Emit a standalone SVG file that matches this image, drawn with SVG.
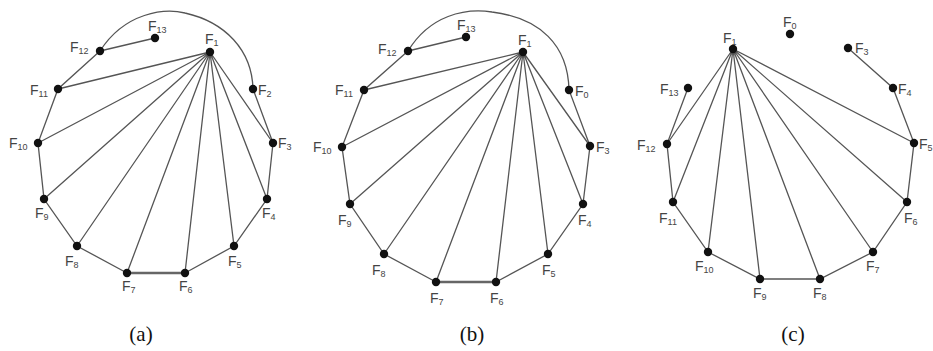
<svg xmlns="http://www.w3.org/2000/svg" width="933" height="351" viewBox="0 0 933 351">
<style>
.e{stroke:#555;stroke-width:1.3;fill:none}
.d{stroke:#666;stroke-width:2.6;fill:none}
.n{fill:#111}
.l{font-family:"Liberation Sans",Arial,sans-serif;font-size:14px;fill:#444}
.s{font-size:9px}
.cap{font-family:"Liberation Serif","Times New Roman",serif;font-size:21px;fill:#111;text-anchor:middle}
</style>
<rect width="933" height="351" fill="#fff"/>
<g id="connectors">
<!-- panel a -->
<path class="e" d="M100,51 C125,12 165,8 185,13 C225,22 252,50 253,89 L273,143"/>
<path class="e" d="M100,51 L155,38 M100,51 L58,89 L38,143 L44,199 L77,246 L127,273 M185,273 L234,246 L267,199 L273,143"/>
<path class="d" d="M127,273 L185,273"/>
<path class="e" d="M210,52 L58,89 M210,52 L38,143 M210,52 L44,199 M210,52 L77,246 M210,52 L127,273 M210,52 L185,273 M210,52 L234,246 M210,52 L267,199 M210,52 L273,143"/>
<!-- panel b -->
<path class="e" d="M408,51 C430,15 465,8 492,12 C540,18 568,45 569,90 L590,146"/>
<path class="e" d="M408,51 L466,37 M408,51 L364,90 L342,147 L350,204 L384,254 L436,282 M496,282 L548,254 L583,204 L590,146"/>
<path class="d" d="M436,282 L496,282"/>
<path class="e" d="M523,52 L364,90 M523,52 L342,147 M523,52 L350,204 M523,52 L384,254 M523,52 L436,282 M523,52 L496,282 M523,52 L548,254 M523,52 L583,204 M523,52 L590,146"/>
<!-- panel c -->
<path class="e" d="M848,48 L893,88 L914,143 L907,202 L873,252 L820,279 L760,279 L708,252 L673,202 L667,144 L688,88"/>
<path class="e" d="M733,49 L667,144 M733,49 L673,202 M733,49 L708,252 M733,49 L760,279 M733,49 L820,279 M733,49 L873,252 M733,49 L907,202 M733,49 L914,143"/>
</g>
<g id="panel-a">
<g id="a-F1"><circle class="n" cx="210" cy="52" r="4.2"/><text class="l" x="205" y="44">F<tspan class="s" dy="2">1</tspan></text></g>
<g id="a-F2"><circle class="n" cx="253" cy="89" r="4.2"/><text class="l" x="258" y="95">F<tspan class="s" dy="2">2</tspan></text></g>
<g id="a-F3"><circle class="n" cx="273" cy="143" r="4.2"/><text class="l" x="278" y="148">F<tspan class="s" dy="2">3</tspan></text></g>
<g id="a-F4"><circle class="n" cx="267" cy="199" r="4.2"/><text class="l" x="262" y="218">F<tspan class="s" dy="2">4</tspan></text></g>
<g id="a-F5"><circle class="n" cx="234" cy="246" r="4.2"/><text class="l" x="228" y="266">F<tspan class="s" dy="2">5</tspan></text></g>
<g id="a-F6"><circle class="n" cx="185" cy="273" r="4.2"/><text class="l" x="179" y="291">F<tspan class="s" dy="2">6</tspan></text></g>
<g id="a-F7"><circle class="n" cx="127" cy="273" r="4.2"/><text class="l" x="122" y="291">F<tspan class="s" dy="2">7</tspan></text></g>
<g id="a-F8"><circle class="n" cx="77" cy="246" r="4.2"/><text class="l" x="65" y="266">F<tspan class="s" dy="2">8</tspan></text></g>
<g id="a-F9"><circle class="n" cx="44" cy="199" r="4.2"/><text class="l" x="35" y="218">F<tspan class="s" dy="2">9</tspan></text></g>
<g id="a-F10"><circle class="n" cx="38" cy="143" r="4.2"/><text class="l" x="9" y="148">F<tspan class="s" dy="2">10</tspan></text></g>
<g id="a-F11"><circle class="n" cx="58" cy="89" r="4.2"/><text class="l" x="30" y="95">F<tspan class="s" dy="2">11</tspan></text></g>
<g id="a-F12"><circle class="n" cx="100" cy="51" r="4.2"/><text class="l" x="70" y="52">F<tspan class="s" dy="2">12</tspan></text></g>
<g id="a-F13"><circle class="n" cx="155" cy="38" r="4.2"/><text class="l" x="148" y="31">F<tspan class="s" dy="2">13</tspan></text></g>
<text class="cap" x="141" y="341">(a)</text>
</g>
<g id="panel-b">
<g id="b-F1"><circle class="n" cx="523" cy="52" r="4.2"/><text class="l" x="518" y="45">F<tspan class="s" dy="2">1</tspan></text></g>
<g id="b-F0"><circle class="n" cx="569" cy="90" r="4.2"/><text class="l" x="575" y="96">F<tspan class="s" dy="2">0</tspan></text></g>
<g id="b-F3"><circle class="n" cx="590" cy="146" r="4.2"/><text class="l" x="596" y="152">F<tspan class="s" dy="2">3</tspan></text></g>
<g id="b-F4"><circle class="n" cx="583" cy="204" r="4.2"/><text class="l" x="578" y="225">F<tspan class="s" dy="2">4</tspan></text></g>
<g id="b-F5"><circle class="n" cx="548" cy="254" r="4.2"/><text class="l" x="542" y="275">F<tspan class="s" dy="2">5</tspan></text></g>
<g id="b-F6"><circle class="n" cx="496" cy="282" r="4.2"/><text class="l" x="490" y="303">F<tspan class="s" dy="2">6</tspan></text></g>
<g id="b-F7"><circle class="n" cx="436" cy="282" r="4.2"/><text class="l" x="430" y="303">F<tspan class="s" dy="2">7</tspan></text></g>
<g id="b-F8"><circle class="n" cx="384" cy="254" r="4.2"/><text class="l" x="372" y="275">F<tspan class="s" dy="2">8</tspan></text></g>
<g id="b-F9"><circle class="n" cx="350" cy="204" r="4.2"/><text class="l" x="338" y="225">F<tspan class="s" dy="2">9</tspan></text></g>
<g id="b-F10"><circle class="n" cx="342" cy="147" r="4.2"/><text class="l" x="313" y="152">F<tspan class="s" dy="2">10</tspan></text></g>
<g id="b-F11"><circle class="n" cx="364" cy="90" r="4.2"/><text class="l" x="335" y="95">F<tspan class="s" dy="2">11</tspan></text></g>
<g id="b-F12"><circle class="n" cx="408" cy="51" r="4.2"/><text class="l" x="378" y="54">F<tspan class="s" dy="2">12</tspan></text></g>
<g id="b-F13"><circle class="n" cx="466" cy="37" r="4.2"/><text class="l" x="457" y="30">F<tspan class="s" dy="2">13</tspan></text></g>
<text class="cap" x="472" y="341">(b)</text>
</g>
<g id="panel-c">
<g id="c-F0"><circle class="n" cx="790" cy="34" r="4.2"/><text class="l" x="783" y="27">F<tspan class="s" dy="2">0</tspan></text></g>
<g id="c-F1"><circle class="n" cx="733" cy="49" r="4.2"/><text class="l" x="723" y="43">F<tspan class="s" dy="2">1</tspan></text></g>
<g id="c-F3"><circle class="n" cx="848" cy="48" r="4.2"/><text class="l" x="855" y="53">F<tspan class="s" dy="2">3</tspan></text></g>
<g id="c-F4"><circle class="n" cx="893" cy="88" r="4.2"/><text class="l" x="898" y="94">F<tspan class="s" dy="2">4</tspan></text></g>
<g id="c-F5"><circle class="n" cx="914" cy="143" r="4.2"/><text class="l" x="919" y="149">F<tspan class="s" dy="2">5</tspan></text></g>
<g id="c-F6"><circle class="n" cx="907" cy="202" r="4.2"/><text class="l" x="904" y="223">F<tspan class="s" dy="2">6</tspan></text></g>
<g id="c-F7"><circle class="n" cx="873" cy="252" r="4.2"/><text class="l" x="866" y="271">F<tspan class="s" dy="2">7</tspan></text></g>
<g id="c-F8"><circle class="n" cx="820" cy="279" r="4.2"/><text class="l" x="813" y="298">F<tspan class="s" dy="2">8</tspan></text></g>
<g id="c-F9"><circle class="n" cx="760" cy="279" r="4.2"/><text class="l" x="753" y="298">F<tspan class="s" dy="2">9</tspan></text></g>
<g id="c-F10"><circle class="n" cx="708" cy="252" r="4.2"/><text class="l" x="695" y="271">F<tspan class="s" dy="2">10</tspan></text></g>
<g id="c-F11"><circle class="n" cx="673" cy="202" r="4.2"/><text class="l" x="659" y="223">F<tspan class="s" dy="2">11</tspan></text></g>
<g id="c-F12"><circle class="n" cx="667" cy="144" r="4.2"/><text class="l" x="637" y="150">F<tspan class="s" dy="2">12</tspan></text></g>
<g id="c-F13"><circle class="n" cx="688" cy="88" r="4.2"/><text class="l" x="660" y="94">F<tspan class="s" dy="2">13</tspan></text></g>
<text class="cap" x="793" y="341">(c)</text>
</g>
</svg>
